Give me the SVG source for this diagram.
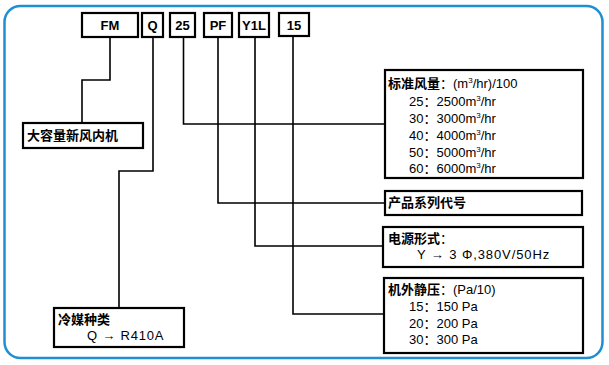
<svg xmlns="http://www.w3.org/2000/svg" width="609" height="365" viewBox="0 0 609 365">
<style>
.bx{fill:#fff;stroke:#000;stroke-width:2.2}
.code{font-family:"Liberation Sans",Arial,sans-serif;font-weight:bold;font-size:13px;text-anchor:middle;fill:#000}
.ttl{font-family:"Noto Sans CJK SC","Liberation Sans",sans-serif;font-weight:bold;font-size:13px;fill:#000}
.txt{font-family:"Liberation Sans","Noto Sans CJK SC",sans-serif;font-weight:normal;font-size:13px;fill:#000}
.sup{font-size:8px}
.ln{fill:none;stroke:#000;stroke-width:1.6}
</style>
<rect x="4.5" y="6" width="598" height="352" rx="16" ry="16" fill="#fff" stroke="#1f8fd4" stroke-width="2.5"/>

<g id="connectors">
<polyline class="ln" points="110,37 110,80 82,80 82,123"/>
<polyline class="ln" points="153,37 153,171 119,171 119,308"/>
<polyline class="ln" points="183.5,37 183.5,124 385,124"/>
<polyline class="ln" points="218,37 218,203 385,203"/>
<polyline class="ln" points="255,37 255,246 383,246"/>
<polyline class="ln" points="293,36 293,314 384,314"/>
</g>

<g id="code-FM"><rect class="bx" x="82" y="13" width="56" height="24"/><text class="code" x="110" y="30">FM</text></g>
<g id="code-Q"><rect class="bx" x="142" y="13" width="21" height="24"/><text class="code" x="152.5" y="30">Q</text></g>
<g id="code-25"><rect class="bx" x="170" y="13" width="25" height="24"/><text class="code" x="182.5" y="30">25</text></g>
<g id="code-PF"><rect class="bx" x="204" y="13" width="28" height="24"/><text class="code" x="218" y="30">PF</text></g>
<g id="code-Y1L"><rect class="bx" x="239" y="13" width="30" height="24"/><text class="code" x="254" y="30">Y1L</text></g>
<g id="code-15"><rect class="bx" x="279" y="13" width="30" height="23"/><text class="code" x="294" y="30">15</text></g>

<g id="node-unit"><rect class="bx" x="23" y="123" width="120" height="25"/><text class="ttl" x="27" y="140" font-size="14">大容量新风内机</text></g>

<g id="node-refrigerant"><rect class="bx" x="54" y="308" width="130" height="39"/>
<text class="ttl" x="58" y="324">冷媒种类</text>
<text class="txt" x="87" y="340" letter-spacing="0.8">Q → R410A</text></g>

<g id="node-airflow"><rect class="bx" x="385" y="70" width="198" height="108"/>
<text class="ttl" x="388" y="88">标准风量<tspan class="txt">：(m<tspan class="sup" dy="-5">3</tspan><tspan dy="5">/hr)/100</tspan></tspan></text>
<text class="txt" x="409" y="106">25：2500m<tspan class="sup" dy="-5">3</tspan><tspan dy="5">/hr</tspan></text>
<text class="txt" x="409" y="123">30：3000m<tspan class="sup" dy="-5">3</tspan><tspan dy="5">/hr</tspan></text>
<text class="txt" x="409" y="140">40：4000m<tspan class="sup" dy="-5">3</tspan><tspan dy="5">/hr</tspan></text>
<text class="txt" x="409" y="157">50：5000m<tspan class="sup" dy="-5">3</tspan><tspan dy="5">/hr</tspan></text>
<text class="txt" x="409" y="173">60：6000m<tspan class="sup" dy="-5">3</tspan><tspan dy="5">/hr</tspan></text>
</g>

<g id="node-series"><rect class="bx" x="385" y="191" width="197" height="24"/><text class="ttl" x="388" y="207">产品系列代号</text></g>

<g id="node-power"><rect class="bx" x="383" y="227" width="200" height="40"/>
<text class="ttl" x="388" y="243">电源形式<tspan class="txt">：</tspan></text>
<text class="txt" x="417" y="259" letter-spacing="0.9">Y → 3 Φ,380V/50Hz</text></g>

<g id="node-pressure"><rect class="bx" x="384" y="278" width="199" height="75"/>
<text class="ttl" x="388" y="294">机外静压<tspan class="txt">：(Pa/10)</tspan></text>
<text class="txt" x="409" y="311">15：150 Pa</text>
<text class="txt" x="409" y="328">20：200 Pa</text>
<text class="txt" x="409" y="344">30：300 Pa</text>
</g>
</svg>
